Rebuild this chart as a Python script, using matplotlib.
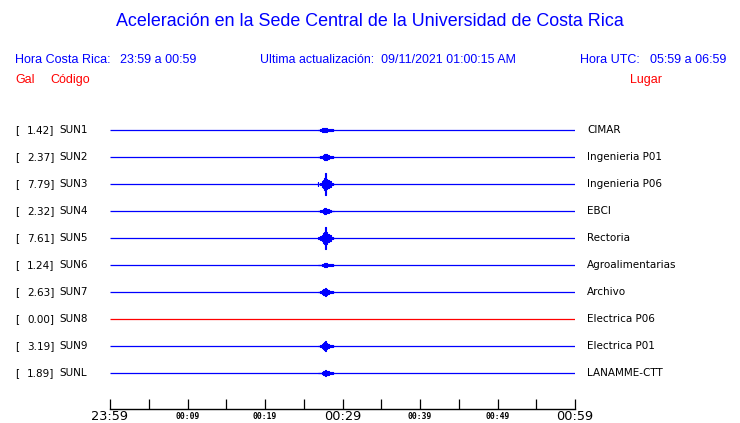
import matplotlib
matplotlib.use("Agg")
import matplotlib.pyplot as plt
import numpy as np

# ---------------- data ----------------
codes = ["SUN1", "SUN2", "SUN3", "SUN4", "SUN5", "SUN6", "SUN7", "SUN8", "SUN9", "SUNL"]
pga = [1.42, 2.37, 7.79, 2.32, 7.61, 1.24, 2.63, 0.00, 3.19, 1.89]
places = ["CIMAR", "Ingenieria P01", "Ingenieria P06", "EBCI", "Rectoria",
          "Agroalimentarias", "Archivo", "Electrica P06", "Electrica P01", "LANAMME-CTT"]
trace_colors = ["blue"] * 7 + ["red"] + ["blue"] * 2

# envelope sample times (minutes after 23:59) and half amplitudes (Gal)
env_t = [26.8, 27.0, 27.2, 27.4, 27.6, 27.72, 27.8, 27.9, 28.1, 28.4, 28.7, 28.9]
env = {
    "SUN1": [0, 0, 0.7, 1.2, 1.42, 1.42, 1.42, 1.3, 1.0, 0.8, 0.5, 0],
    "SUN2": [0, 0, 0.5, 1.0, 1.6, 2.0, 2.37, 1.8, 1.3, 1.0, 0.5, 0],
    "SUN3": [1.2, 0, 1.0, 1.8, 3.0, 3.8, 7.79, 3.6, 2.6, 1.8, 0.8, 0],
    "SUN4": [0, 0, 0.4, 1.0, 1.6, 2.0, 2.32, 1.6, 1.2, 0.8, 0.3, 0],
    "SUN5": [0, 1.0, 1.3, 2.0, 3.2, 4.0, 7.61, 3.8, 2.8, 1.8, 0.8, 0],
    "SUN6": [0, 0, 0, 0.6, 1.0, 1.1, 1.24, 1.1, 0.9, 0.8, 0.6, 0],
    "SUN7": [0, 0, 0.5, 1.2, 2.0, 2.3, 2.63, 1.8, 1.3, 1.0, 0.6, 0],
    "SUN8": [0] * 12,
    "SUN9": [0, 0, 0.6, 1.4, 2.2, 2.6, 3.19, 2.0, 1.5, 1.0, 0.4, 0],
    "SUNL": [0, 0, 0.3, 1.0, 1.5, 1.7, 1.89, 1.5, 1.2, 1.0, 0.8, 0],
}

tick_pos = list(range(0, 61, 5))
tick_labels = ["23:59", "", "00:09", "", "00:19", "", "00:29", "", "00:39", "", "00:49", "", "00:59"]
big_labels = {"23:59", "00:29", "00:59"}

title = "Aceleración en la Sede Central de la Universidad de Costa Rica"

# ---------------- figure ----------------
W, H = 740, 423
fig = plt.figure(figsize=(W / 100, H / 100), dpi=100)

def fx(px):
    return px / W

def fy(py):
    return 1 - py / H

row_px = 27.0
ax_top, ax_bot = 115, 409
ax = fig.add_axes([fx(110), fy(ax_bot), fx(575) - fx(110), (ax_bot - ax_top) / H])
ax.set_xlim(0, 60)
ax.set_ylim(-(ax_bot - 130) / row_px, (130 - ax_top) / row_px)

gal_scale = 1.45 / row_px  # rows per Gal

for i, code in enumerate(codes):
    y = -i
    c = trace_colors[i]
    ax.plot([0, 60], [y, y], color=c, lw=0.9, solid_capstyle="butt")
    a = np.array(env[code]) * gal_scale
    if a.max() > 0:
        ax.fill_between(env_t, y - a, y + a, step="mid", color=c, lw=0.8, edgecolor=c)
    ax.text(-95 / 7.75, y, "[", fontsize=7.5, family="DejaVu Sans", va="center", ha="left")
    ax.text(-55.5 / 7.75, y, f"{pga[i]:.2f}]", fontsize=7.5, family="DejaVu Sans", va="center", ha="right")
    ax.text(-51 / 7.75, y, code, fontsize=7.5, family="DejaVu Sans", va="center", ha="left")
    ax.text(60 + 12 / 7.75, y, places[i], fontsize=7.5, family="DejaVu Sans", va="center", ha="left")

for s in ["top", "left", "right"]:
    ax.spines[s].set_visible(False)
ax.spines["bottom"].set_linewidth(1.0)
ax.set_yticks([])
ax.set_xticks(tick_pos)
ax.set_xticklabels(tick_labels)
ax.tick_params(axis="x", direction="in", length=7, width=0.9, pad=5.3)
for lab in ax.get_xticklabels():
    lab.set_va("center")
    if lab.get_text() in big_labels:
        lab.set_fontsize(9.3)
        lab.set_family("DejaVu Sans")
    else:
        lab.set_fontsize(5.8)
        lab.set_family("DejaVu Sans Mono")
        lab.set_fontweight("bold")

# ---------------- header ----------------
hf = "Liberation Sans"
blue = "#0000ff"
red = "#ff0000"
fig.text(0.5, fy(22), title, ha="center", va="center", color=blue, fontsize=12.9, family=hf)
fig.text(fx(15), fy(60), "Hora Costa Rica:", ha="left", va="center", color=blue, fontsize=9, family=hf)
fig.text(fx(120), fy(60), "23:59 a 00:59", ha="left", va="center", color=blue, fontsize=9, family=hf)
fig.text(fx(260), fy(60), "Ultima actualización:  09/11/2021 01:00:15 AM", ha="left", va="center",
         color=blue, fontsize=8.9, family=hf)
fig.text(fx(580), fy(60), "Hora UTC:", ha="left", va="center", color=blue, fontsize=9, family=hf)
fig.text(fx(650), fy(60), "05:59 a 06:59", ha="left", va="center", color=blue, fontsize=9, family=hf)
fig.text(fx(15), fy(80), "Gal", ha="left", va="center", color=red, fontsize=9, family=hf)
fig.text(fx(50), fy(80), "Código", ha="left", va="center", color=red, fontsize=9, family=hf)
fig.text(fx(630), fy(80), "Lugar", ha="left", va="center", color=red, fontsize=9, family=hf)

fig.savefig("out.png", dpi=100)
